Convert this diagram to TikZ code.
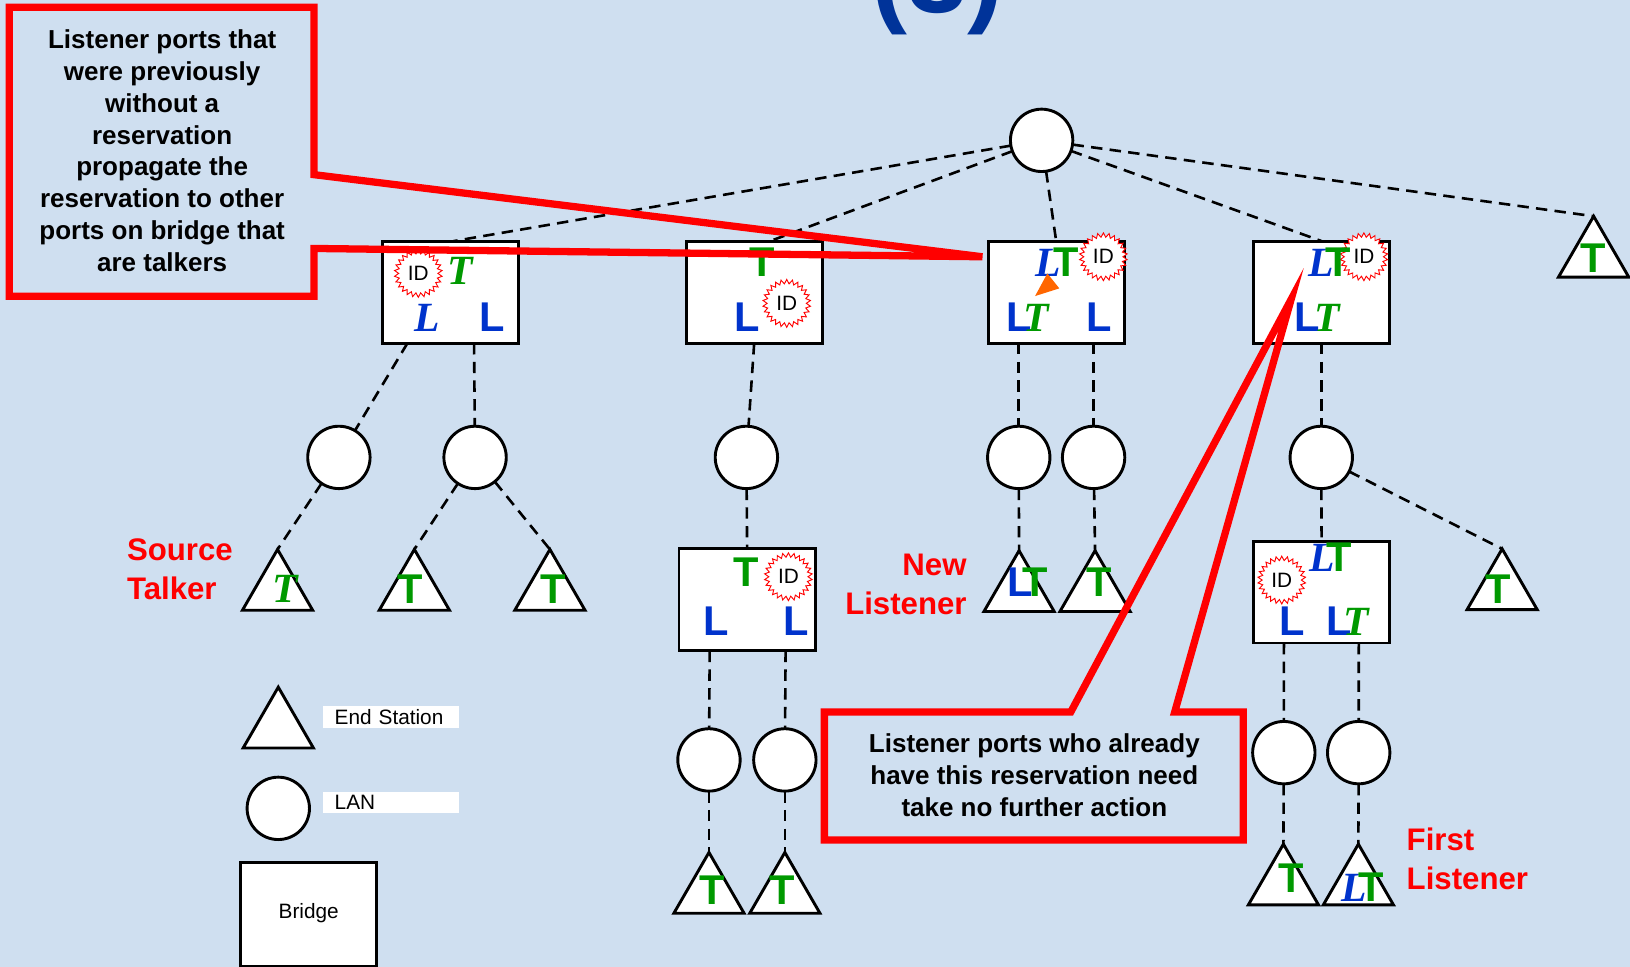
\documentclass[tikz,border=0pt]{standalone}
\usepackage{fontspec}
\setmainfont{Liberation Sans}
\newfontfamily\tnr{Liberation Serif}
\usetikzlibrary{shapes.geometric}
\definecolor{bg}{RGB}{207,223,240}
\definecolor{lblue}{RGB}{0,51,204}
\definecolor{tgreen}{RGB}{0,153,0}
\definecolor{ttlblue}{RGB}{0,51,153}
\definecolor{orng}{RGB}{255,102,0}
\begin{document}
\begin{tikzpicture}[x=1pt,y=-1pt,
  lan/.style={circle,draw,line width=2.8pt,fill=white,minimum size=60pt,inner sep=0pt,outer sep=0pt},
  bridge/.style={rectangle,draw,line width=2.8pt,fill=white,minimum width=131pt,minimum height=98pt,inner sep=0pt,outer sep=0pt},
  es/.style={regular polygon,regular polygon sides=3,draw,line width=2.8pt,fill=white,minimum size=78pt,inner sep=0pt,outer sep=0pt},
  link/.style={line width=2.5pt,dash pattern=on 11pt off 7pt},
  Lu/.style={font=\fontsize{40}{40}\selectfont\bfseries,text=lblue,inner sep=0pt,anchor=base},
  Li/.style={font=\fontsize{40}{40}\selectfont\tnr\bfseries\itshape,text=lblue,inner sep=0pt,anchor=base},
  Tu/.style={font=\fontsize{40}{40}\selectfont\bfseries,text=tgreen,inner sep=0pt,anchor=base},
  Ti/.style={font=\fontsize{40}{40}\selectfont\tnr\bfseries\itshape,text=tgreen,inner sep=0pt,anchor=base},
  idstar/.style={star,star points=26,star point ratio=1.22,draw=red,line width=0.9pt,fill=white,minimum size=46pt,inner sep=0pt,font=\fontsize{20}{20}\selectfont},
  callout/.style={draw=red,line width=7pt,line join=miter},
  ctext/.style={font=\fontsize{25}{30.6}\selectfont\bfseries,align=center,inner sep=0pt},
  lbl/.style={font=\fontsize{30}{37}\selectfont\bfseries,text=red,inner sep=0pt},
  legtext/.style={fill=white,minimum width=131pt,minimum height=21pt,inner xsep=11pt,inner ysep=0pt,text width=109pt,align=left,font=\fontsize{20}{20}\selectfont}
]
\useasboundingbox (0,0) rectangle (1568,930);
\fill[bg] (0,0) rectangle (1568,930);

% title (partly cut off, as in the reference)
\node[font=\fontsize{104}{104}\selectfont\bfseries,text=ttlblue,inner sep=0pt,anchor=base] (title) at (902,12.5) {(3)};

% LANs
\node[lan] (lan0) at (1002,135) {};
\node[lan] (l1a) at (326,440) {};
\node[lan] (l1b) at (457,440) {};
\node[lan] (l2) at (718,440) {};
\node[lan] (l3a) at (980,440) {};
\node[lan] (l3b) at (1052,440) {};
\node[lan] (l4) at (1271,440) {};
\node[lan] (l5a) at (682,731) {};
\node[lan] (l5b) at (755,731) {};
\node[lan] (l6a) at (1235,724) {};
\node[lan] (l6b) at (1307,724) {};

% bridges
\node[bridge] (b1) at (433.5,281) {};
\node[bridge] (b2) at (726,281) {};
\node[bridge] (b3) at (1016.5,281) {};
\node[bridge] (b4) at (1271,281) {};
\node[bridge] (b5) at (718.7,577) {};
\node[bridge] (b6) at (1271.3,569.5) {};

% end stations (center = apex + 39)
\node[es] (tsrc) at (267,567.5) {};
\node[es] (t2) at (398.6,567.5) {};
\node[es] (t3) at (529,567.5) {};
\node[es] (ttop) at (1533,247) {};
\node[es] (tnl1) at (980.3,568.7) {};
\node[es] (tnl2) at (1053.4,568.7) {};
\node[es] (t4r) at (1445,567) {};
\node[es] (t5a) at (682,859) {};
\node[es] (t5b) at (755,859) {};
\node[es] (t6a) at (1234.6,851) {};
\node[es] (t6b) at (1306.7,851) {};

% links
\draw[link] (lan0) -- ([xshift=68pt]b1.north west);
\draw[link] (lan0) -- ([xshift=80pt]b2.north west);
\draw[link] (lan0) -- ([xshift=65pt]b3.north west);
\draw[link] (lan0) -- ([xshift=66pt]b4.north west);
\draw[link] (lan0) -- (ttop.corner 1);
\draw[link] ([xshift=24pt]b1.south west) -- (l1a);
\draw[link] ([xshift=88pt]b1.south west) -- (l1b);
\draw[link] (l1a) -- (tsrc.corner 1);
\draw[link] (l1b) -- (t2.corner 1);
\draw[link] (l1b) -- (t3.corner 1);
\draw[link] ([xshift=65pt]b2.south west) -- (l2);
\draw[link] (l2) -- (b5.north);
\draw[link] ([xshift=29.5pt]b5.south west) -- (l5a);
\draw[link] ([xshift=102.5pt]b5.south west) -- (l5b);
\draw[link] (l5a) -- (t5a.corner 1);
\draw[link] (l5b) -- (t5b.corner 1);
\draw[link] ([xshift=29pt]b3.south west) -- (l3a);
\draw[link] ([xshift=101pt]b3.south west) -- (l3b);
\draw[link] (l3a) -- (tnl1.corner 1);
\draw[link] (l3b) -- (tnl2.corner 1);
\draw[link] (b4.south) -- (l4);
\draw[link] (l4) -- (b6.north);
\draw[link] (l4) -- (t4r.corner 1);
\draw[link] ([xshift=29.3pt]b6.south west) -- (l6a);
\draw[link] ([xshift=101.3pt]b6.south west) -- (l6b);
\draw[link] (l6a) -- (t6a.corner 1);
\draw[link] (l6b) -- (t6b.corner 1);

% bridge contents
\node[idstar] (id1) at (402.4,263) {ID};
\node[Ti] (b1t) at (442.5,274) {T};
\node[Li] (b1l1) at (410.5,318.5) {L};
\node[Lu] (b1l2) at (473,318.5) {L};

\node[Tu] (b2t) at (733.5,266) {T};
\node[Lu] (b2l) at (719,319) {L};
\node[idstar] (id2) at (756.8,291.8) {ID};

\node[idstar] (id3) at (1061.4,247) {ID};
\node[Li] (b3l) at (1008.5,266) {L};
\node[Tu] (b3t) at (1026,266) {T};
\fill[orng] (995.7,284.8) -- (1019,277.4) -- (1007.5,263) -- cycle;
\node[Lu] (b3l2) at (980,319) {L};
\node[Ti] (b3t2) at (997,319) {T};
\node[Lu] (b3l3) at (1057.5,319) {L};

\node[idstar] (id4) at (1312,247) {ID};
\node[Li] (b4l) at (1271,266) {L};
\node[Tu] (b4t) at (1287,266) {T};
\node[Lu] (b4l2) at (1257.7,319) {L};
\node[Ti] (b4t2) at (1276.5,319) {T};

\node[idstar] (id5) at (758.4,554.8) {ID};
\node[Tu] (b5t) at (718,564.4) {T};
\node[Lu] (b5l1) at (688.5,611) {L};
\node[Lu] (b5l2) at (765.6,611) {L};

\node[idstar] (id6) at (1233,558) {ID};
\node[Li] (b6l) at (1272,550) {L};
\node[Tu] (b6t) at (1288,550) {T};
\node[Lu] (b6l2) at (1243.5,611) {L};
\node[Lu] (b6l3) at (1288.7,611) {L};
\node[Ti] (b6t2) at (1304.5,611) {T};

% end station contents
\node[Ti] (ts) at (274,580) {T};
\node[Tu] (t2t) at (395,581) {T};
\node[Tu] (t3t) at (532,581) {T};
\node[Tu] (ttopt) at (1533,262) {T};
\node[Lu] (tnl1l) at (981,574) {L};
\node[Tu] (tnl1t) at (996,574) {T};
\node[Tu] (tnl2t) at (1057,574) {T};
\node[Tu] (t4rt) at (1441,581) {T};
\node[Tu] (t5at) at (685,870) {T};
\node[Tu] (t5bt) at (752,870) {T};
\node[Tu] (t6at) at (1242,859) {T};
\node[Li] (t6bl) at (1302.7,867) {L};
\node[Tu] (t6bt) at (1318.7,867) {T};

% labels
\node[lbl,align=left,anchor=west] (src) at (122,547.5) {Source\\Talker};
\node[lbl,align=right,anchor=east] (newl) at (930,562) {New\\Listener};
\node[lbl,align=left,anchor=west] (firstl) at (1353,826) {First\\Listener};

% legend
\node[es] (leges) at (267.7,700) {};
\node[legtext] (legest) at (376.5,689.5) {End Station};
\node[lan] (leglan) at (267.7,777.6) {};
\node[legtext] (leglant) at (376.5,772) {LAN};
\node[bridge,minimum height=100pt] (legbr) at (297,880) {};
\node[font=\fontsize{20}{20}\selectfont,inner sep=0pt] (legbrt) at (297,878) {Bridge};

% callouts
\draw[callout] (9,7) -- (302,7) -- (302,168) -- (945,247) -- (302,239) -- (302,285) -- (9,285) -- cycle;
\node[ctext] (c1) at (156,145) {Listener ports that\\were previously\\without a\\reservation\\propagate the\\reservation to other\\ports on bridge that\\are talkers};
\draw[callout] (793,685) -- (1030,685) -- (1242,288) -- (1130,685) -- (1196,685) -- (1196,808) -- (793,808) -- cycle;
\node[ctext] (c2) at (995,745.5) {Listener ports who already\\have this reservation need\\take no further action};
\end{tikzpicture}
\end{document}
